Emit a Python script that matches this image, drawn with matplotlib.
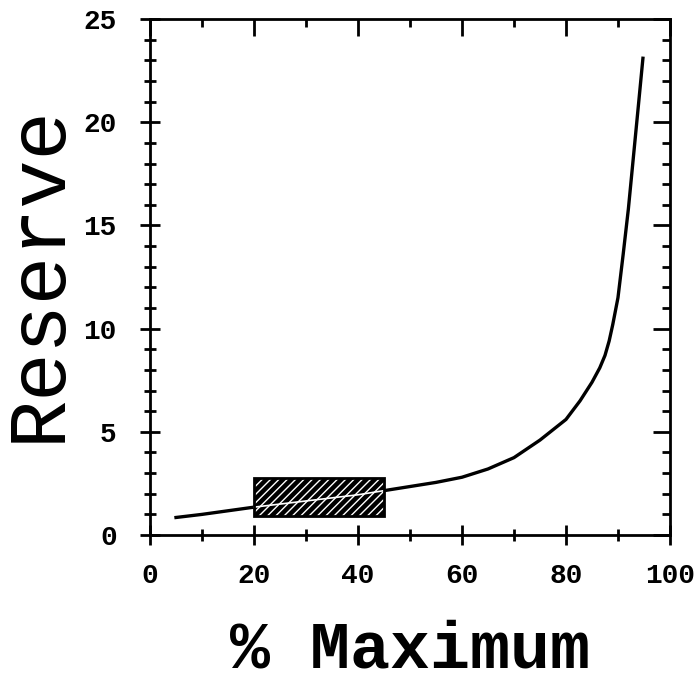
import numpy as np
import matplotlib
matplotlib.use("Agg")
import matplotlib.pyplot as plt
from matplotlib.patches import Rectangle
from matplotlib.ticker import MultipleLocator

# curve
pct_max = [5, 10, 20, 30, 40, 45, 50, 55, 60, 65, 70, 75, 80, 82.7, 85, 86.5, 87.5, 88.3, 89, 90, 91, 92, 93, 94, 94.8]
reserve = [0.85, 1.0, 1.35, 1.65, 1.95, 2.15, 2.35, 2.55, 2.8, 3.2, 3.75, 4.6, 5.6, 6.5, 7.4, 8.1, 8.7, 9.4, 10.2, 11.5, 13.6, 15.8, 18.4, 21.0, 23.1]

# hatched box (x range, y range)
box_x = [20, 45]
box_y = [0.9, 2.75]

fig = plt.figure(figsize=(7, 6.8), dpi=100)
ax = fig.add_axes([0.2143, 0.2132, 0.7428, 0.7588])

ax.plot(pct_max, reserve, color="black", lw=2.4, zorder=2)

box = Rectangle((box_x[0], box_y[0]), box_x[1] - box_x[0], box_y[1] - box_y[0],
                facecolor="black", edgecolor="white", hatch="////", lw=0, zorder=3)
ax.add_patch(box)
ax.add_patch(Rectangle((box_x[0], box_y[0]), box_x[1] - box_x[0], box_y[1] - box_y[0],
                       facecolor="none", edgecolor="black", lw=2, zorder=4))

# curve running through the box shows as a white gap
inside = [(x, y) for x, y in zip(pct_max, reserve) if box_x[0] <= x <= box_x[1]]
ax.plot([p[0] for p in inside], [p[1] for p in inside], color="white", lw=1.2, zorder=3.5)

ax.set_xlim(0, 100)
ax.set_ylim(0, 25)
ax.xaxis.set_major_locator(MultipleLocator(20))
ax.xaxis.set_minor_locator(MultipleLocator(10))
ax.yaxis.set_major_locator(MultipleLocator(5))
ax.yaxis.set_minor_locator(MultipleLocator(1))

for s in ax.spines.values():
    s.set_linewidth(2)

ax.tick_params(which="both", top=True, right=True, width=2, color="black")
ax.tick_params(which="major", direction="inout", length=14)
ax.tick_params(which="minor", direction="inout", length=8)
ax.tick_params(axis="x", which="major", pad=13)
ax.tick_params(axis="y", which="major", pad=17)
# top/right ticks point inward only
for t in ax.xaxis.get_major_ticks():
    t.tick2line.set_marker(3)
    t.tick2line.set_markersize(12)
for t in ax.xaxis.get_minor_ticks():
    t.tick2line.set_marker(3)
    t.tick2line.set_markersize(6)
for t in ax.yaxis.get_major_ticks():
    t.tick2line.set_marker(0)
    t.tick2line.set_markersize(12)
for t in ax.yaxis.get_minor_ticks():
    t.tick2line.set_marker(0)
    t.tick2line.set_markersize(6)

for lab in ax.get_xticklabels() + ax.get_yticklabels():
    lab.set_family("Liberation Mono")
    lab.set_weight("bold")
    lab.set_fontsize(20)

# axis titles placed by figure coords
fig.text(410 / 700, 1 - 667 / 680, "% Maximum", family="Liberation Mono", weight="bold",
         fontsize=48, ha="center", va="baseline")
fig.text(60 / 700, 1 - 273 / 680, "Reserve", family="Liberation Mono", fontsize=58,
         rotation=90, rotation_mode="anchor", ha="center", va="baseline")

fig.savefig("out.png", dpi=100)
